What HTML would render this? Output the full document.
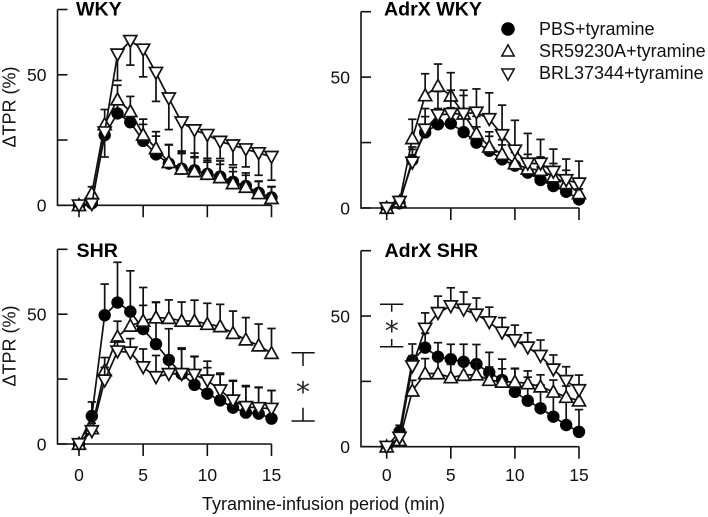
<!DOCTYPE html>
<html>
<head>
<meta charset="utf-8">
<title>Tyramine infusion TPR chart</title>
<style>
html,body{margin:0;padding:0;background:#fff;width:708px;height:517px;overflow:hidden}
svg{display:block}
text{font-family:"Liberation Sans",sans-serif;fill:#111}
</style>
</head>
<body>
<svg id="chart" xmlns="http://www.w3.org/2000/svg" width="708" height="517" viewBox="0 0 708 517"></svg>
<script>
const minutes = [0,1,2,3,4,5,6,7,8,9,10,11,12,13,14,15];
const xTickLabels = [0,5,10,15];
const yTicks = [0,25,50,75];
const yTickLabels = [0,50];
const seriesNames = ['PBS+tyramine','SR59230A+tyramine','BRL37344+tyramine'];

// negative error = bar drawn downward
const wkyPbs = [0,0.8,26.9,35.2,31.8,24.7,19.5,16,14,13.4,12,11,9,7.4,4.8,3];
const wkyPbsErr = [0,1,4,4,4,6.3,7,7.3,6.8,6.6,6,6,5.5,5,4.5,4];
const wkySr = [0,4.6,31,40.5,36,27,21.8,16.5,14,13,12,10.7,8.4,7,4.6,2.7];
const wkySrErr = [0,2.5,5.7,5.5,5.7,6,6.4,6.6,5.8,5.6,5.2,5,4.5,4.5,4.5,4.5];
const wkyBrl = [0,0.5,28,57.8,63,59.7,50.8,41,31.8,28.8,27,24.4,23,21.5,20,18.6];
const wkyBrlErr = [0,-0.5,-9.5,-10,-9.3,-10.5,-11,-12,-11.5,-10.5,-10.5,-6.5,-7.5,-6.8,-8.5,-9];

const adrWkyPbs = [0,1.8,18.3,28.9,32,32.3,29,25,21.9,18.6,16.2,13.5,10.7,8.4,6.2,3.3];
const adrWkyPbsErr = [0,1.5,5,6,6,6,6,6,5.5,5.5,5,5,5,4.5,4.5,4];
const adrWkySr = [0,2.4,26.6,43,46.6,42.9,36,28.5,23.4,20.6,17,15,14.5,12,9.4,5.6];
const adrWkySrErr = [0,1.5,7.3,8.3,8.4,8.8,7,6.5,5.7,5.5,5.5,5.5,5,5,5,5];
const adrWkyBrl = [0,2.4,17.4,30,35.5,36,36,36.5,34,27.9,22,17,17,13.9,10.7,9.4];
const adrWkyBrlErr = [0,2,5,8,9,9,9,9,10,11.4,11.5,11.5,9.2,8.6,8,8.5];

const shrPbs = [0,10.8,49.6,54.5,51,44.3,38.5,32.4,27,22.8,19.4,16.8,14,12.1,11.7,9.8];
const shrPbsErr = [0,5.4,12,15.5,15.7,16,16,12,9.5,10.8,10,10,10.5,10,10,10.8];
const shrSr = [0,6,28.3,41.3,45.5,47.4,48.7,48.5,47.4,47.4,46.2,45.3,42.7,40.2,37.9,35];
const shrSrErr = [0,2,5,6,6,6,6,7,7.3,8,8,8.5,8.5,8.5,8.3,9.5];
const shrBrl = [0,5,24.5,35.7,35.3,29.6,25.8,27,27,26.7,24.5,20.7,16.8,14.3,13.9,13.6];
const shrBrlErr = [0,2,5,4,5.3,7,8.3,7,10,7.1,7.4,6.6,7.4,8.2,8,7];

const adrShrPbs = [0,5.7,33,37.9,34.4,33.5,32.5,31.6,28.4,25.5,21,17.6,14.7,11.5,8.3,5.7];
const adrShrPbsErr = [0,2.5,6.3,5.5,5.4,5.7,6.7,7.5,7.7,8,9,9,9,9,9,8.5];
const adrShrSr = [0,2.5,21.4,28,28,26.5,27.4,27.6,25.5,24.8,24.8,24.2,23,21,19,17.6];
const adrShrSrErr = [0,1.5,4,5.7,5,5,5,5,5,5,5,4.8,4.5,4.5,4.2,4.2];
const adrShrBrl = [0,3.5,30.8,45.2,51.2,53.8,52.5,50.6,47.7,43.7,40.8,38,34.8,29.6,25.2,21.7];
const adrShrBrlErr = [0,2,4,6,6.4,7,6.7,6.3,5.7,5.7,5.7,5.6,6,5.5,5.4,5.7];

const NS = 'http://www.w3.org/2000/svg';
const svg = document.getElementById('chart');

function mk(parent, tag, attrs, name, txt){
  const el = document.createElementNS(NS, tag);
  for (const k in attrs) el.setAttribute(k, attrs[k]);
  
  
  if (txt !== undefined) el.textContent = txt;
  parent.appendChild(el);
  return el;
}
function upTri(x,y,s){ return `${x},${y-s*0.62} ${x+s*0.62},${y+s*0.5} ${x-s*0.62},${y+s*0.5}`; }
function downTri(x,y,s){ return `${x},${y+s*0.62} ${x+s*0.62},${y-s*0.5} ${x-s*0.62},${y-s*0.5}`; }

function drawPanel(p){
  const g = mk(svg,'g',{}, 'panel-'+p.key);
  const sx = v => p.x0 + (p.x15-p.x0)*v/15;
  const sy = v => p.y0 - (p.y0-p.y75)*v/75;
  const axisStyle = {stroke:'#111','stroke-width':1.6,fill:'none'};
  mk(g,'path',Object.assign({d:`M${p.ax} ${sy(75)}V${p.y0}H${sx(15)}`},axisStyle),'axes-'+p.key);
  yTicks.forEach(t=>{
    mk(g,'line',Object.assign({x1:p.ax,x2:p.ax+10,y1:sy(t),y2:sy(t)},axisStyle),'y-tick-'+t);
  });
  xTickLabels.forEach(t=>{
    mk(g,'line',Object.assign({x1:sx(t),x2:sx(t),y1:p.y0,y2:p.y0+12},axisStyle),'x-tick-'+t);
    if(p.xLabels) mk(g,'text',{x:sx(t),y:p.xLabelY,'text-anchor':'middle','font-size':17.5},'x-tick-label-'+t,String(t));
  });
  yTickLabels.forEach(t=>{
    mk(g,'text',{x:p.ax-11,y:sy(t)+6.3,'text-anchor':'end','font-size':17.5},'y-tick-label-'+t,String(t));
  });
  if(p.yTitle) mk(g,'text',{transform:`translate(15.5,${p.yTitleY}) rotate(-90)`,'text-anchor':'middle','font-size':18},'y-axis-title','ΔTPR (%)');
  mk(g,'text',{x:p.titleX,y:p.titleY,'font-size':19.6,'font-weight':'bold',style:'fill:#000'},'panel-title-'+p.key,p.title);

  const series = [
    {k:'pbs',v:p.pbs,e:p.pbsE},
    {k:'sr',v:p.sr,e:p.srE},
    {k:'brl',v:p.brl,e:p.brlE}
  ];
  series.forEach(s=>{
    const sg = mk(g,'g',{}, 'series-'+s.k+'-'+p.key);
    s.v.forEach((v,i)=>{
      if(!s.e[i]) return;
      const x = sx(minutes[i]), end = sy(v+s.e[i]);
      mk(sg,'line',{x1:x,x2:x,y1:sy(v),y2:end,stroke:'#111','stroke-width':1.7},'error-bar');
      mk(sg,'line',{x1:x-4.2,x2:x+4.2,y1:end,y2:end,stroke:'#111','stroke-width':1.7},'error-cap');
    });
    mk(sg,'polyline',{points:s.v.map((v,i)=>sx(minutes[i])+','+sy(v)).join(' '),fill:'none',stroke:'#111','stroke-width':1.7},'line-'+s.k);
    s.v.forEach((v,i)=>{
      const x = sx(minutes[i]), y = sy(v);
      if(s.k==='pbs') mk(sg,'circle',{cx:x,cy:y,r:6.2,fill:'#000'},'point-pbs');
      if(s.k==='sr') mk(sg,'polygon',{points:upTri(x,y,10.5),fill:'#fff',stroke:'#111','stroke-width':1.7},'point-sr');
      if(s.k==='brl') mk(sg,'polygon',{points:downTri(x,y,10.5),fill:'#fff',stroke:'#111','stroke-width':1.7},'point-brl');
    });
  });
}

const panels = [
 {key:'wky',title:'WKY',titleX:76,titleY:15.5,ax:57.5,x0:79,x15:271.5,y0:205.3,y75:9.5,xLabels:false,yTitle:true,yTitleY:107,
  pbs:wkyPbs,pbsE:wkyPbsErr,sr:wkySr,srE:wkySrErr,brl:wkyBrl,brlE:wkyBrlErr},
 {key:'adrx-wky',title:'AdrX WKY',titleX:384,titleY:15.5,ax:361,x0:386.7,x15:579,y0:208,y75:11.7,xLabels:false,yTitle:false,
  pbs:adrWkyPbs,pbsE:adrWkyPbsErr,sr:adrWkySr,srE:adrWkySrErr,brl:adrWkyBrl,brlE:adrWkyBrlErr},
 {key:'shr',title:'SHR',titleX:76.5,titleY:257,ax:57.5,x0:79,x15:271.5,y0:444,y75:249.3,xLabels:true,xLabelY:481,yTitle:true,yTitleY:346,
  pbs:shrPbs,pbsE:shrPbsErr,sr:shrSr,srE:shrSrErr,brl:shrBrl,brlE:shrBrlErr},
 {key:'adrx-shr',title:'AdrX SHR',titleX:384.5,titleY:257,ax:361,x0:386.7,x15:579,y0:446.7,y75:250.7,xLabels:true,xLabelY:481,yTitle:false,
  pbs:adrShrPbs,pbsE:adrShrPbsErr,sr:adrShrSr,srE:adrShrSrErr,brl:adrShrBrl,brlE:adrShrBrlErr}
];
panels.forEach(drawPanel);

mk(svg,'text',{x:323.5,y:510,'text-anchor':'middle','font-size':18},'x-axis-title','Tyramine-infusion period (min)');

// legend
const legend = mk(svg,'g',{}, 'legend');
const legendY = [29,51,74];
const legendTextY = [35,57,79];
seriesNames.forEach((n,i)=>{
  const e = mk(legend,'g',{}, 'legend-entry-'+(i+1));
  const x = 508, y = legendY[i];
  if(i===0) mk(e,'circle',{cx:x,cy:y,r:6.8,fill:'#000'},'legend-marker-pbs');
  if(i===1) mk(e,'polygon',{points:upTri(x,y,10),fill:'#fff',stroke:'#111','stroke-width':1.5},'legend-marker-sr');
  if(i===2) mk(e,'polygon',{points:downTri(x,y,10),fill:'#fff',stroke:'#111','stroke-width':1.5},'legend-marker-brl');
  mk(e,'text',{x:539,y:legendTextY[i],'font-size':18},'legend-label-'+(i+1),n);
});

// significance brackets
function bracket(key,cx,x1,x2,top,topEnd,botStart,bot,starY){
  const g = mk(svg,'g',{}, 'significance-bracket-'+key);
  mk(g,'path',{d:`M${x1} ${top}H${x2}M${cx} ${top}V${topEnd}M${cx} ${botStart}V${bot}M${x1} ${bot}H${x2}`,stroke:'#111','stroke-width':1.5,fill:'none'},'bracket-lines-'+key);
  mk(g,'text',{x:cx,y:starY,'text-anchor':'middle','font-size':28,style:'font-family:\'DejaVu Sans\',sans-serif;fill:#222'},'significance-star-'+key,'*');
}
bracket('shr',303,291.5,314.7,352.7,366,407.7,421,401.5);
bracket('adrx-shr',391.7,380,403.3,304.3,311.7,339,346.7,340.5);
</script>
</body>
</html>
